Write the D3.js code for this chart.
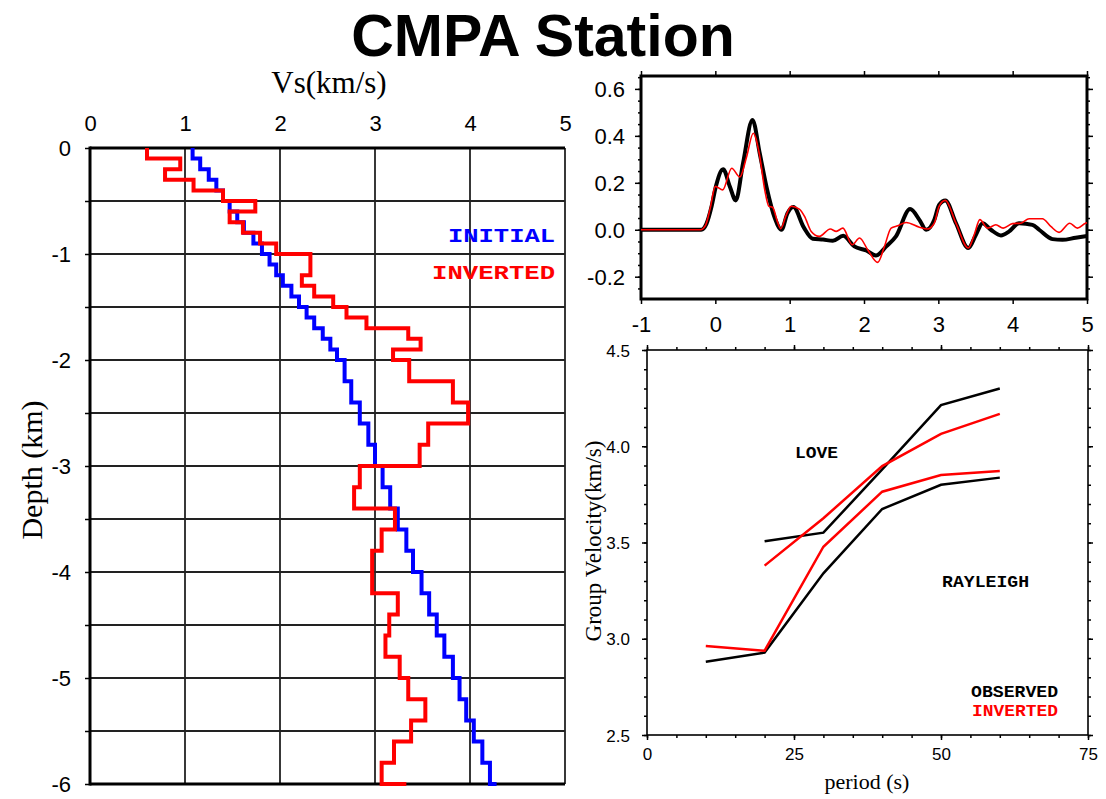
<!DOCTYPE html>
<html>
<head>
<meta charset="utf-8">
<script src="https://cdn.jsdelivr.net/npm/d3@7/dist/d3.min.js"></script>
<style>
  body { margin: 0; background: #fff; }
  text { font-family: "Liberation Sans", Arial, Helvetica, sans-serif; fill: #000; }
  .serif { font-family: "Liberation Serif", "Times New Roman", serif; }
  .mono { font-family: "Liberation Mono", "Courier New", monospace; font-weight: bold; }
  .axis path.domain { display: none; }
  .axis line { stroke: #000; stroke-width: 1.5; }
</style>
</head>
<body>
<div id="canvas"></div>
<script>
// velocity model: layer tops (km), 0.1 km layers to 2 km then 0.2 km, last = half-space
var layerTops = [0, 0.1, 0.2, 0.3, 0.4, 0.5, 0.6, 0.7, 0.8, 0.9,
  1.0, 1.1, 1.2, 1.3, 1.4, 1.5, 1.6, 1.7, 1.8, 1.9,
  2.0, 2.2, 2.4, 2.6, 2.8, 3.0, 3.2, 3.4, 3.6, 3.8,
  4.0, 4.2, 4.4, 4.6, 4.8, 5.0, 5.2, 5.4, 5.6, 5.8, 6.0];
var vsInitial = [1.08, 1.16, 1.25, 1.33, 1.40, 1.47, 1.55, 1.62, 1.72, 1.81,
  1.89, 1.96, 2.03, 2.12, 2.20, 2.28, 2.36, 2.45, 2.53, 2.60,
  2.68, 2.75, 2.84, 2.93, 3.00, 3.08, 3.16, 3.24, 3.33, 3.40,
  3.49, 3.57, 3.65, 3.73, 3.82, 3.89, 3.96, 4.04, 4.13, 4.21, 4.28];
var vsInverted = [0.60, 0.95, 0.79, 1.09, 1.40, 1.74, 1.47, 1.61, 1.79, 1.96,
  2.32, 2.32, 2.23, 2.36, 2.56, 2.70, 2.91, 3.35, 3.48, 3.19,
  3.36, 3.82, 3.98, 3.56, 3.47, 2.84, 2.78, 3.21, 3.07, 2.97,
  2.97, 3.24, 3.15, 3.11, 3.26, 3.35, 3.53, 3.38, 3.20, 3.07, 3.33];
var vsTicks = [0, 1, 2, 3, 4, 5];
var depthTicks = [0, 1, 2, 3, 4, 5, 6];

// receiver functions
var obsTime = [-1, -0.5, -0.19, -0.12, -0.05, 0.007, 0.105, 0.195, 0.275, 0.373, 0.50, 0.597, 0.69, 0.80, 0.89, 0.97, 1.05,
  1.19, 1.31, 1.45, 1.58, 1.72, 1.87, 2.03, 2.16, 2.30, 2.43, 2.62, 2.75, 2.835, 2.946, 3.01, 3.094, 3.237, 3.403,
  3.506, 3.595, 3.707, 3.842, 3.953, 4.087, 4.266, 4.356, 4.535, 4.669, 4.848, 5.0];
var obsAmp = [0, 0, 0, 0.025, 0.1, 0.184, 0.258, 0.184, 0.125, 0.284, 0.468, 0.326, 0.18, 0.05, 0.0, 0.07, 0.097,
  0.01, -0.038, -0.042, -0.047, -0.026, -0.071, -0.088, -0.11, -0.071, -0.028, 0.088, 0.04, 0.0, 0.043, 0.106, 0.125, 0.028, -0.078,
  -0.021, 0.028, 0.0, -0.024, -0.007, 0.028, 0.021, 0.0, -0.04, -0.043, -0.034, -0.027];
var synTime = [-1, -0.5, -0.2, -0.13, -0.07, 0.0, 0.1, 0.22, 0.33, 0.42, 0.51, 0.59, 0.665, 0.72, 0.77, 0.84, 0.88, 0.95,
  1.02, 1.13, 1.2, 1.29, 1.4, 1.546, 1.627, 1.716, 1.842, 1.94, 2.05, 2.185, 2.275, 2.365, 2.454, 2.566, 2.745, 2.856,
  2.946, 3.01, 3.094, 3.237, 3.403, 3.483, 3.559, 3.662, 3.774, 3.872, 3.998, 4.11, 4.221, 4.4, 4.513, 4.624, 4.768,
  4.87, 4.98, 5.0];
var synAmp = [0, 0, 0, 0.02, 0.09, 0.185, 0.17, 0.262, 0.225, 0.31, 0.411, 0.326, 0.17, 0.1, 0.096, 0.03, 0.005, 0.06,
  0.1, 0.088, 0.057, -0.007, -0.028, 0.003, -0.007, 0.007, -0.064, -0.035, -0.085, -0.139, -0.071, 0.007, 0.017, 0.031, 0.011, 0.003,
  0.028, 0.1, 0.125, 0.028, -0.078, -0.021, 0.043, 0.007, 0.021, 0.007, 0.026, 0.028, 0.047, 0.047, 0.014, -0.011, 0.028,
  0.007, 0.028, 0.03];
var rfTimeTicks = [-1, 0, 1, 2, 3, 4, 5];
var rfAmpTicks = [-0.2, 0, 0.2, 0.4, 0.6];

// dispersion curves
var lovePeriods = [20, 30, 40, 50, 60];
var loveObserved = [3.506, 3.551, 3.88, 4.214, 4.30];
var loveInverted = [3.38, 3.626, 3.897, 4.064, 4.168];
var rayleighPeriods = [10, 20, 30, 40, 50, 60];
var rayleighObserved = [2.881, 2.928, 3.34, 3.674, 3.80, 3.837];
var rayleighInverted = [2.962, 2.938, 3.478, 3.764, 3.851, 3.871];
var periodTicks = [0, 25, 50, 75];
var gvTicks = [2.5, 3.0, 3.5, 4.0, 4.5];

// plain hyphen instead of d3's unicode minus
function fmt(spec) {
  var f = d3.format(spec);
  return function(d) { return f(d).replace("\u2212", "-"); };
}

var ChartUtil = {
  svg: null,

  init: function() {
    ChartUtil.svg = d3.select("#canvas").append("svg")
      .attr("width", 1106)
      .attr("height", 799);

    ChartUtil.svg.append("text")
      .attr("x", 543)
      .attr("y", 56)
      .attr("text-anchor", "middle")
      .style("font-size", "59px")
      .style("font-weight", "bold")
      .text("CMPA Station");

    ChartUtil.drawProfile();
    ChartUtil.drawReceiverFunction();
    ChartUtil.drawDispersion();
  },

  drawProfile: function() {
    var svg = ChartUtil.svg;
    var x = d3.scaleLinear().domain([0, 5]).range([90, 565]);
    var y = d3.scaleLinear().domain([0, 6]).range([148, 784]);
    var g = svg.append("g");

    // grid
    g.selectAll(".vgrid")
      .data(vsTicks.slice(1))
      .enter().append("line")
      .attr("x1", function(d) { return x(d); })
      .attr("x2", function(d) { return x(d); })
      .attr("y1", y(0))
      .attr("y2", y(6))
      .attr("stroke", "#222")
      .attr("stroke-width", 1.8);
    g.selectAll(".hgrid")
      .data(d3.range(1, 12).map(function(i) { return i * 0.5; }))
      .enter().append("line")
      .attr("x1", x(0))
      .attr("x2", x(5))
      .attr("y1", function(d) { return y(d); })
      .attr("y2", function(d) { return y(d); })
      .attr("stroke", "#222")
      .attr("stroke-width", 1.8);

    // axes
    g.append("g")
      .attr("class", "axis")
      .attr("transform", "translate(0," + y(0) + ")")
      .call(d3.axisTop(x).tickValues(vsTicks).tickSize(0).tickPadding(17).tickFormat(fmt("d")))
      .selectAll("text").style("font-size", "22px");
    g.append("g")
      .attr("class", "axis")
      .attr("transform", "translate(" + x(0) + ",0)")
      .call(d3.axisLeft(y)
        .tickValues(d3.range(0, 13).map(function(i) { return i * 0.5; }))
        .tickSize(5).tickPadding(14)
        .tickFormat(function(d) {
          return depthTicks.indexOf(d) < 0 ? "" : (d === 0 ? "0" : "-" + d);
        }))
      .selectAll("text").style("font-size", "22px").attr("dy", "0.36em");

    // frame
    g.append("line").attr("x1", x(0)).attr("x2", x(0)).attr("y1", y(0) - 1.5).attr("y2", y(6) + 1.5)
      .attr("stroke", "#000").attr("stroke-width", 3);
    g.append("line").attr("x1", x(0)).attr("x2", x(5)).attr("y1", y(0)).attr("y2", y(0))
      .attr("stroke", "#000").attr("stroke-width", 3);
    g.append("line").attr("x1", x(0)).attr("x2", x(5)).attr("y1", y(6)).attr("y2", y(6))
      .attr("stroke", "#000").attr("stroke-width", 3);

    // models
    var line = d3.line()
      .x(function(d) { return x(d[0]); })
      .y(function(d) { return y(d[1]); })
      .curve(d3.curveStepBefore);
    g.append("path")
      .datum(d3.zip(vsInitial, layerTops))
      .attr("d", line)
      .attr("fill", "none")
      .attr("stroke", "#0000ff")
      .attr("stroke-width", 4);
    g.append("path")
      .datum(d3.zip(vsInverted, layerTops))
      .attr("d", line)
      .attr("fill", "none")
      .attr("stroke", "#ff0000")
      .attr("stroke-width", 4);

    // labels
    svg.append("text")
      .attr("class", "serif")
      .attr("x", 329)
      .attr("y", 93)
      .attr("text-anchor", "middle")
      .style("font-size", "31px")
      .text("Vs(km/s)");
    svg.append("text")
      .attr("class", "serif")
      .attr("transform", "translate(42,470) rotate(-90)")
      .attr("text-anchor", "middle")
      .style("font-size", "30px")
      .text("Depth (km)");
    svg.append("text")
      .attr("class", "mono")
      .attr("x", 448).attr("y", 242)
      .attr("textLength", 107).attr("lengthAdjust", "spacingAndGlyphs")
      .style("font-size", "20px").style("fill", "#0000ff")
      .text("INITIAL");
    svg.append("text")
      .attr("class", "mono")
      .attr("x", 432).attr("y", 279)
      .attr("textLength", 123).attr("lengthAdjust", "spacingAndGlyphs")
      .style("font-size", "20px").style("fill", "#ff0000")
      .text("INVERTED");
  },

  drawReceiverFunction: function() {
    var svg = ChartUtil.svg;
    var x = d3.scaleLinear().domain([-1, 5]).range([641, 1087]);
    var y = d3.scaleLinear().domain([-0.295, 0.655]).range([299, 76]);
    var g = svg.append("g");
    var minor = d3.range(-5, 14).map(function(i) { return i * 0.05; });

    g.append("g").attr("class", "axis")
      .attr("transform", "translate(0," + y.range()[0] + ")")
      .call(d3.axisBottom(x).tickValues(rfTimeTicks).tickSize(5).tickPadding(12).tickFormat(fmt("d")))
      .selectAll("text").style("font-size", "22px");
    g.append("g").attr("class", "axis")
      .attr("transform", "translate(0," + y.range()[1] + ")")
      .call(d3.axisTop(x).tickValues(rfTimeTicks).tickSize(5).tickFormat(""));
    g.append("g").attr("class", "axis")
      .attr("transform", "translate(" + x(-1) + ",0)")
      .call(d3.axisLeft(y).tickValues(rfAmpTicks).tickSize(6).tickPadding(10).tickFormat(fmt(".1f")))
      .selectAll("text").style("font-size", "22px").attr("dy", "0.36em");
    g.append("g").attr("class", "axis")
      .attr("transform", "translate(" + x(-1) + ",0)")
      .call(d3.axisLeft(y).tickValues(minor).tickSize(3).tickFormat(""));
    g.append("g").attr("class", "axis")
      .attr("transform", "translate(" + x(5) + ",0)")
      .call(d3.axisRight(y).tickValues(rfAmpTicks).tickSize(6).tickFormat(""));
    g.append("g").attr("class", "axis")
      .attr("transform", "translate(" + x(5) + ",0)")
      .call(d3.axisRight(y).tickValues(minor).tickSize(3).tickFormat(""));

    g.append("rect")
      .attr("x", x(-1)).attr("y", y.range()[1])
      .attr("width", x(5) - x(-1)).attr("height", y.range()[0] - y.range()[1])
      .attr("fill", "none").attr("stroke", "#000").attr("stroke-width", 3);

    var line = d3.line()
      .x(function(d) { return x(d[0]); })
      .y(function(d) { return y(d[1]); })
      .curve(d3.curveMonotoneX);
    g.append("path")
      .datum(d3.zip(obsTime, obsAmp))
      .attr("d", line)
      .attr("fill", "none").attr("stroke", "#000").attr("stroke-width", 4)
      .attr("stroke-linejoin", "round");
    g.append("path")
      .datum(d3.zip(synTime, synAmp))
      .attr("d", line)
      .attr("fill", "none").attr("stroke", "#ff0000").attr("stroke-width", 1.6)
      .attr("stroke-linejoin", "round");
  },

  drawDispersion: function() {
    var svg = ChartUtil.svg;
    var x = d3.scaleLinear().domain([0, 75]).range([647, 1088]);
    var y = d3.scaleLinear().domain([2.5, 4.5]).range([735, 350]);
    var g = svg.append("g");
    var minorX = d3.range(0, 16).map(function(i) { return i * 5; });
    var minorY = d3.range(0, 21).map(function(i) { return 2.5 + i * 0.1; });

    g.append("g").attr("class", "axis")
      .attr("transform", "translate(0," + y(2.5) + ")")
      .call(d3.axisBottom(x).tickValues(periodTicks).tickSize(5).tickPadding(8))
      .selectAll("text").style("font-size", "17px");
    g.append("g").attr("class", "axis")
      .attr("transform", "translate(0," + y(2.5) + ")")
      .call(d3.axisBottom(x).tickValues(minorX).tickSize(3).tickFormat(""));
    g.append("g").attr("class", "axis")
      .attr("transform", "translate(0," + y(4.5) + ")")
      .call(d3.axisTop(x).tickValues(periodTicks).tickSize(5).tickFormat(""));
    g.append("g").attr("class", "axis")
      .attr("transform", "translate(0," + y(4.5) + ")")
      .call(d3.axisTop(x).tickValues(minorX).tickSize(3).tickFormat(""));
    g.append("g").attr("class", "axis")
      .attr("transform", "translate(" + x(0) + ",0)")
      .call(d3.axisLeft(y).tickValues(gvTicks).tickSize(5).tickPadding(12).tickFormat(d3.format(".1f")))
      .selectAll("text").style("font-size", "17px").attr("dy", "0.36em");
    g.append("g").attr("class", "axis")
      .attr("transform", "translate(" + x(0) + ",0)")
      .call(d3.axisLeft(y).tickValues(minorY).tickSize(3).tickFormat(""));
    g.append("g").attr("class", "axis")
      .attr("transform", "translate(" + x(75) + ",0)")
      .call(d3.axisRight(y).tickValues(gvTicks).tickSize(5).tickFormat(""));
    g.append("g").attr("class", "axis")
      .attr("transform", "translate(" + x(75) + ",0)")
      .call(d3.axisRight(y).tickValues(minorY).tickSize(3).tickFormat(""));

    g.append("rect")
      .attr("x", x(0)).attr("y", y(4.5))
      .attr("width", x(75) - x(0)).attr("height", y(2.5) - y(4.5))
      .attr("fill", "none").attr("stroke", "#000").attr("stroke-width", 1.6);

    var line = d3.line()
      .x(function(d) { return x(d[0]); })
      .y(function(d) { return y(d[1]); });
    var curves = [
      [lovePeriods, loveObserved, "#000"],
      [rayleighPeriods, rayleighObserved, "#000"],
      [lovePeriods, loveInverted, "#ff0000"],
      [rayleighPeriods, rayleighInverted, "#ff0000"]
    ];
    curves.forEach(function(c) {
      g.append("path")
        .datum(d3.zip(c[0], c[1]))
        .attr("d", line)
        .attr("fill", "none")
        .attr("stroke", c[2])
        .attr("stroke-width", 2.5);
    });

    var labels = [
      ["LOVE", 795, 458, 43, "#000"],
      ["RAYLEIGH", 942, 587, 87, "#000"],
      ["OBSERVED", 971, 697, 87, "#000"],
      ["INVERTED", 972, 716, 86, "#ff0000"]
    ];
    labels.forEach(function(l) {
      svg.append("text")
        .attr("class", "mono")
        .attr("x", l[1]).attr("y", l[2])
        .attr("textLength", l[3]).attr("lengthAdjust", "spacingAndGlyphs")
        .style("font-size", "16px").style("fill", l[4])
        .text(l[0]);
    });

    svg.append("text")
      .attr("class", "serif")
      .attr("x", 867).attr("y", 789)
      .attr("text-anchor", "middle")
      .style("font-size", "22px")
      .text("period (s)");
    svg.append("text")
      .attr("class", "serif")
      .attr("transform", "translate(601,541) rotate(-90)")
      .attr("text-anchor", "middle")
      .style("font-size", "23px")
      .text("Group Velocity(km/s)");
  }
};

try {
  ChartUtil.init();
} catch (e) {
  console.log(e);
}
</script>
</body>
</html>
